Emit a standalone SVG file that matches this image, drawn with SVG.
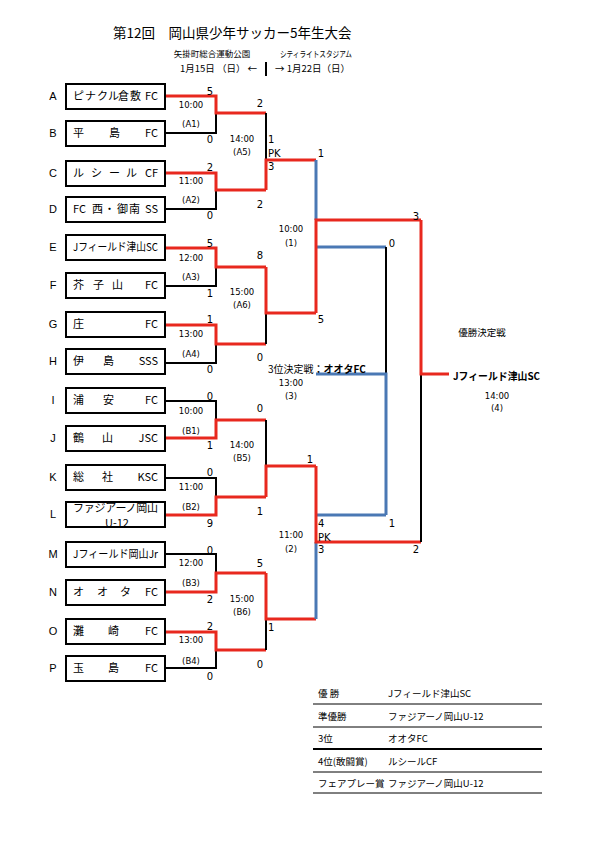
<svg xmlns="http://www.w3.org/2000/svg" width="595" height="842" viewBox="0 0 595 842">
<style>
.jp{font-family:"Noto Sans CJK JP","Liberation Sans",sans-serif;fill:#000}
.tn{font-size:11px}
.lt{font-family:"Liberation Sans",sans-serif;font-size:11px;fill:#000;text-anchor:middle}
.n{font-family:"DejaVu Sans",sans-serif;font-size:10px;fill:#000;text-anchor:middle}
.ns{font-family:"DejaVu Sans",sans-serif;font-size:10px;fill:#000}
.t{font-family:"DejaVu Sans",sans-serif;font-size:8.5px;fill:#000;text-anchor:middle}
.box{fill:#fff;stroke:#000;stroke-width:2}
.r{stroke:#e8281e;stroke-width:3;fill:none}
.k{stroke:#000;stroke-width:2;fill:none}
.b{stroke:#4a78b4;stroke-width:3;fill:none}
.end{text-anchor:end}
</style>
<defs>
<clipPath id="clipL"><rect x="67" y="503" width="97" height="23"/></clipPath>
</defs>

<g id="header">
<text class="jp" x="113" y="38" font-size="13.5">第12回　岡山県少年サッカー5年生大会</text>
<text class="jp" x="212" y="57" font-size="8.5" text-anchor="middle">矢掛町総合運動公園</text>
<text class="jp" x="180" y="72" font-size="9.5">1月15日 （日） ←</text>
<text class="jp" x="280" y="57" font-size="8.5" textLength="72" lengthAdjust="spacingAndGlyphs">シティライトスタジアム</text>
<text class="jp" x="275" y="72" font-size="9.5">→ 1月22日（日）</text>
<line x1="266" y1="62" x2="266" y2="76" stroke="#000" stroke-width="2"/>
</g>

<g id="connectors">
<!-- A1 -->
<polyline class="k" points="165,133 216,133 216,113"/>
<polyline class="r" points="165,96 216,96 216,113 266,113"/>
<!-- A2 -->
<polyline class="k" points="165,209 216,209 216,190"/>
<polyline class="r" points="165,173 216,173 216,190 266,190"/>
<!-- A5 -->
<line class="k" x1="266" y1="113" x2="266" y2="160"/>
<polyline class="r" points="266,190 266,160 316,160"/>
<!-- A3 -->
<polyline class="k" points="165,286 216,286 216,267"/>
<polyline class="r" points="165,248 216,248 216,267 266,267"/>
<!-- A4 -->
<polyline class="k" points="165,363 216,363 216,344"/>
<polyline class="r" points="165,325 216,325 216,344 266,344"/>
<!-- A6 -->
<line class="k" x1="266" y1="313" x2="266" y2="344"/>
<polyline class="r" points="266,267 266,313 316,313"/>
<!-- SF1 -->
<line class="b" x1="316" y1="160" x2="316" y2="220"/>
<line class="b" x1="316" y1="247" x2="386" y2="247"/>
<polyline class="r" points="316,313 316,220 421,220"/>
<!-- B1 -->
<polyline class="k" points="165,401 216,401 216,420"/>
<polyline class="r" points="165,438 216,438 216,420 266,420"/>
<!-- B2 -->
<polyline class="k" points="165,478 216,478 216,497"/>
<polyline class="r" points="165,515 216,515 216,497 266,497"/>
<!-- B5 -->
<line class="k" x1="266" y1="420" x2="266" y2="466"/>
<polyline class="r" points="266,497 266,466 316,466"/>
<!-- B3 -->
<polyline class="k" points="165,554 216,554 216,573"/>
<polyline class="r" points="165,592 216,592 216,573 266,573"/>
<!-- B4 -->
<polyline class="k" points="165,668 216,668 216,650"/>
<polyline class="r" points="165,632 216,632 216,650 266,650"/>
<!-- B6 -->
<line class="k" x1="266" y1="619" x2="266" y2="650"/>
<polyline class="r" points="266,573 266,619 316,619"/>
<!-- SF2 -->
<line class="b" x1="316" y1="542" x2="316" y2="619"/>
<line class="b" x1="316" y1="515" x2="386" y2="515"/>
<polyline class="r" points="316,466 316,542 421,542"/>
<!-- Final -->
<line class="k" x1="421" y1="374" x2="421" y2="542"/>
<polyline class="r" points="421,220 421,374 449,374"/>
<!-- 3rd place -->
<line class="k" x1="386" y1="247" x2="386" y2="374"/>
<polyline class="b" points="316,374 386,374 386,515"/>
</g>

<g id="team-A"><text class="lt" x="53" y="100">A</text><rect class="box" x="66" y="84" width="99" height="25"/><text class="jp tn" x="73 85 97 108 118 130" y="100">ピナクル倉敷</text><text class="jp tn end" x="158" y="100">FC</text></g>
<g id="team-B"><text class="lt" x="53" y="137">B</text><rect class="box" x="66" y="121" width="99" height="25"/><text class="jp tn" x="73" y="137">平</text><text class="jp tn" x="109" y="137">島</text><text class="jp tn end" x="158" y="137">FC</text></g>
<g id="team-C"><text class="lt" x="53" y="177">C</text><rect class="box" x="66" y="161" width="99" height="25"/><text class="jp tn" x="73 91 109 126" y="177">ルシール</text><text class="jp tn end" x="158" y="177">CF</text></g>
<g id="team-D"><text class="lt" x="53" y="213">D</text><rect class="box" x="66" y="197" width="99" height="25"/><text class="jp tn" x="73" y="213">FC</text><text class="jp tn" x="92 104 117 129" y="213">西・御南</text><text class="jp tn end" x="158" y="213">SS</text></g>
<g id="team-E"><text class="lt" x="53" y="251">E</text><rect class="box" x="66" y="235" width="99" height="25"/><text class="jp tn" x="73" y="251" textLength="85" lengthAdjust="spacingAndGlyphs">Jフィールド津山SC</text></g>
<g id="team-F"><text class="lt" x="53" y="289">F</text><rect class="box" x="66" y="273" width="99" height="25"/><text class="jp tn" x="73 93 112" y="289">芥子山</text><text class="jp tn end" x="158" y="289">FC</text></g>
<g id="team-G"><text class="lt" x="53" y="328">G</text><rect class="box" x="66" y="312" width="99" height="25"/><text class="jp tn" x="73" y="328">庄</text><text class="jp tn end" x="158" y="328">FC</text></g>
<g id="team-H"><text class="lt" x="53" y="365">H</text><rect class="box" x="66" y="349" width="99" height="25"/><text class="jp tn" x="73" y="365">伊</text><text class="jp tn" x="103" y="365">島</text><text class="jp tn end" x="158" y="365">SSS</text></g>
<g id="team-I"><text class="lt" x="53" y="404">I</text><rect class="box" x="66" y="388" width="99" height="25"/><text class="jp tn" x="73" y="404">浦</text><text class="jp tn" x="103" y="404">安</text><text class="jp tn end" x="158" y="404">FC</text></g>
<g id="team-J"><text class="lt" x="53" y="442">J</text><rect class="box" x="66" y="426" width="99" height="25"/><text class="jp tn" x="73" y="442">鶴</text><text class="jp tn" x="102" y="442">山</text><text class="jp tn end" x="158" y="442">JSC</text></g>
<g id="team-K"><text class="lt" x="53" y="481">K</text><rect class="box" x="66" y="465" width="99" height="25"/><text class="jp tn" x="73" y="481">総</text><text class="jp tn" x="102" y="481">社</text><text class="jp tn end" x="158" y="481">KSC</text></g>
<g id="team-L"><text class="lt" x="53" y="518">L</text><rect class="box" x="66" y="502" width="99" height="25"/><g clip-path="url(#clipL)"><text class="jp tn" x="73" y="512" textLength="85" lengthAdjust="spacing">ファジアーノ岡山</text><text class="jp tn" x="117" y="527" text-anchor="middle">U-12</text></g></g>
<g id="team-M"><text class="lt" x="53" y="558">M</text><rect class="box" x="66" y="542" width="99" height="25"/><text class="jp tn" x="73" y="558" textLength="85" lengthAdjust="spacingAndGlyphs">Jフィールド岡山Jr</text></g>
<g id="team-N"><text class="lt" x="53" y="596">N</text><rect class="box" x="66" y="580" width="99" height="25"/><text class="jp tn" x="73 97 120" y="596">オオタ</text><text class="jp tn end" x="158" y="596">FC</text></g>
<g id="team-O"><text class="lt" x="53" y="635">O</text><rect class="box" x="66" y="619" width="99" height="25"/><text class="jp tn" x="73" y="635">灘</text><text class="jp tn" x="108" y="635">崎</text><text class="jp tn end" x="158" y="635">FC</text></g>
<g id="team-P"><text class="lt" x="53" y="672">P</text><rect class="box" x="66" y="656" width="99" height="25"/><text class="jp tn" x="73" y="672">玉</text><text class="jp tn" x="108" y="672">島</text><text class="jp tn end" x="158" y="672">FC</text></g>

<g id="labels-round1">
<text class="n" x="210" y="95">5</text><text class="t" x="191" y="108">10:00</text><text class="t" x="191" y="127">(A1)</text><text class="n" x="210" y="143">0</text>
<text class="n" x="210" y="171">2</text><text class="t" x="191" y="184">11:00</text><text class="t" x="191" y="203">(A2)</text><text class="n" x="210" y="219">0</text>
<text class="n" x="210" y="247">5</text><text class="t" x="191" y="261">12:00</text><text class="t" x="191" y="280">(A3)</text><text class="n" x="210" y="297">1</text>
<text class="n" x="210" y="323">1</text><text class="t" x="191" y="337">13:00</text><text class="t" x="191" y="357">(A4)</text><text class="n" x="210" y="373">0</text>
<text class="n" x="210" y="400">0</text><text class="t" x="191" y="414">10:00</text><text class="t" x="191" y="434">(B1)</text><text class="n" x="210" y="449">1</text>
<text class="n" x="210" y="476">0</text><text class="t" x="191" y="490">11:00</text><text class="t" x="191" y="510">(B2)</text><text class="n" x="210" y="527">9</text>
<text class="n" x="210" y="554">0</text><text class="t" x="191" y="566">12:00</text><text class="t" x="191" y="586">(B3)</text><text class="n" x="210" y="603">2</text>
<text class="n" x="210" y="630">2</text><text class="t" x="191" y="643">13:00</text><text class="t" x="191" y="664">(B4)</text><text class="n" x="210" y="680">0</text>
</g>

<g id="labels-round2">
<text class="n" x="260" y="107">2</text><text class="t" x="242" y="142">14:00</text><text class="t" x="242" y="155">(A5)</text>
<text class="ns" x="268" y="143">1</text><text class="ns" x="268" y="157">PK</text><text class="ns" x="268" y="170">3</text><text class="n" x="260" y="208">2</text>
<text class="n" x="260" y="259">8</text><text class="t" x="242" y="295">15:00</text><text class="t" x="242" y="308">(A6)</text><text class="n" x="260" y="361">0</text>
<text class="n" x="260" y="412">0</text><text class="t" x="242" y="448">14:00</text><text class="t" x="242" y="461">(B5)</text><text class="n" x="260" y="515">1</text>
<text class="n" x="260" y="567">5</text><text class="t" x="242" y="602">15:00</text><text class="t" x="242" y="615">(B6)</text><text class="ns" x="268" y="631">1</text><text class="n" x="260" y="668">0</text>
</g>

<g id="labels-semis">
<text class="n" x="321" y="157">1</text><text class="t" x="291" y="232">10:00</text><text class="t" x="291" y="246">(1)</text><text class="n" x="321" y="323">5</text>
<text class="n" x="310" y="463">1</text><text class="ns" x="318" y="527">4</text><text class="ns" x="318" y="541">PK</text><text class="ns" x="318" y="553">3</text>
<text class="t" x="291" y="538">11:00</text><text class="t" x="291" y="552">(2)</text>
<text class="n" x="416" y="220">3</text><text class="n" x="392" y="247">0</text><text class="n" x="392" y="527">1</text><text class="n" x="416" y="553">2</text>
</g>

<g id="third-place">
<text class="jp" x="268" y="373" font-size="10">3位決定戦<tspan font-weight="bold">：オオタFC</tspan></text>
<text class="t" x="291" y="386">13:00</text><text class="t" x="291" y="399">(3)</text>
</g>

<g id="final">
<text class="jp" x="482" y="336" font-size="9.5" text-anchor="middle">優勝決定戦</text>
<text class="jp" x="453" y="380" font-size="10.5" font-weight="bold" textLength="87" lengthAdjust="spacingAndGlyphs">Jフィールド津山SC</text>
<text class="t" x="497" y="399">14:00</text><text class="t" x="497" y="411">(4)</text>
</g>

<g id="results">
<text class="jp" x="318" y="697" font-size="9.5">優 勝</text><text class="jp" x="388" y="697" font-size="9.5">Jフィールド津山SC</text>
<line x1="313" y1="704" x2="542" y2="704" stroke="#000" stroke-width="1"/>
<text class="jp" x="318" y="720" font-size="9.5">準優勝</text><text class="jp" x="388" y="720" font-size="9.5">ファジアーノ岡山U-12</text>
<line x1="313" y1="727" x2="542" y2="727" stroke="#000" stroke-width="1"/>
<text class="jp" x="318" y="742" font-size="9.5">3位</text><text class="jp" x="388" y="742" font-size="9.5">オオタFC</text>
<line x1="313" y1="749" x2="542" y2="749" stroke="#000" stroke-width="2"/>
<text class="jp" x="318" y="765" font-size="9.5">4位(敢闘賞)</text><text class="jp" x="388" y="765" font-size="9.5">ルシールCF</text>
<line x1="313" y1="772" x2="542" y2="772" stroke="#000" stroke-width="1"/>
<text class="jp" x="318" y="787" font-size="9.5">フェアプレー賞</text><text class="jp" x="388" y="787" font-size="9.5">ファジアーノ岡山U-12</text>
<line x1="313" y1="793" x2="542" y2="793" stroke="#000" stroke-width="1"/>
</g>
</svg>
